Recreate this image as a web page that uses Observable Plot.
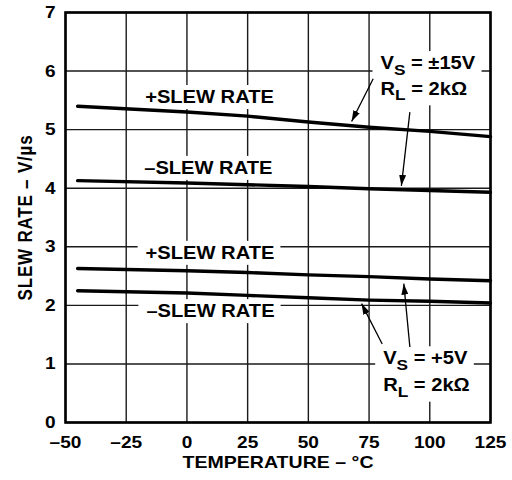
<!DOCTYPE html>
<html><head><meta charset="utf-8">
<script src="https://cdn.jsdelivr.net/npm/d3@7"></script>
<script src="https://cdn.jsdelivr.net/npm/@observablehq/plot@0.6"></script>
<style>body{margin:0;background:#fff}</style>
</head><body><div id="chart"></div>
<script>
// Temperature (°C) sample points
const temps = [-45, 0, 25, 50, 75, 100, 125];
// Slew rate (V/µs)
const posSlew15 = [5.40, 5.30, 5.23, 5.13, 5.04, 4.97, 4.88];
const negSlew15 = [4.13, 4.09, 4.06, 4.03, 3.99, 3.96, 3.93];
const posSlew5  = [2.63, 2.59, 2.56, 2.52, 2.49, 2.45, 2.42];
const negSlew5  = [2.25, 2.21, 2.17, 2.13, 2.09, 2.07, 2.04];
const seriesNames = ["+SR ±15V", "-SR ±15V", "+SR +5V", "-SR +5V"];
const seriesValues = [posSlew15, negSlew15, posSlew5, negSlew5];

const xTicks = [-50, -25, 0, 25, 50, 75, 100, 125];
const yTicks = [0, 1, 2, 3, 4, 5, 6, 7];
const xLabel = "TEMPERATURE – °C";
const yLabel = "SLEW RATE – V/µs";

// Curve labels (data coordinates)
const curveLabels = ["+SLEW RATE", "–SLEW RATE", "+SLEW RATE", "–SLEW RATE"];
const curveLabelX = [9.3, 8.8, 9.5, 9.7];
const curveLabelY = [5.55, 4.34, 2.89, 1.895];

// Condition labels ("_" marks a subscript letter)
const condLabels = ["V_S = ±15V", "R_L = 2kΩ", "V_S = +5V", "R_L = 2kΩ"];
const condLabelX = [79.7, 79.7, 80.8, 80.8];
const condLabelY = [6.13, 5.69, 1.09, 0.63];

// Annotation arrows (data coordinates)
const arrowX1 = [76.7, 91.8, 80.4, 91.8];
const arrowY1 = [5.87, 5.30, 1.34, 1.29];
const arrowX2 = [67.8, 88.3, 71.9, 89.3];
const arrowY2 = [5.14, 4.04, 2.03, 2.37];

const lineData = seriesNames.flatMap((s, j) => temps.map((t, i) => ({series: s, t, v: seriesValues[j][i]})));
const curveLabelData = curveLabels.map((text, i) => ({text, x: curveLabelX[i], y: curveLabelY[i]}));
const condLabelData = condLabels.map((text, i) => ({text, x: condLabelX[i], y: condLabelY[i]}));
const arrowData = arrowX1.map((x1, i) => ({x1, y1: arrowY1[i], x2: arrowX2[i], y2: arrowY2[i]}));

const fmt = d => String(d).replace("-", "–");
const FONT = "'Liberation Sans', Arial, Helvetica, sans-serif";

const svg = Plot.plot({
  width: 512,
  height: 480,
  marginLeft: 65,
  marginRight: 22,
  marginTop: 12,
  marginBottom: 58,
  style: {fontFamily: FONT, fontSize: "17px", fontWeight: "bold", color: "black", background: "white"},
  x: {domain: [-50, 125]},
  y: {domain: [0, 7]},
  marks: [
    Plot.gridX(xTicks, {stroke: "#1a1a1a", strokeOpacity: 1, strokeWidth: 1.4}),
    Plot.gridY(yTicks, {stroke: "#1a1a1a", strokeOpacity: 1, strokeWidth: 1.4}),
    Plot.axisX(xTicks, {tickFormat: fmt, tickSize: 0, tickPadding: 13, fontSize: 17, fontWeight: "bold", label: null, className: "tk"}),
    Plot.axisY(yTicks, {tickFormat: d => String(d), tickSize: 0, tickPadding: 10, fontSize: 17, fontWeight: "bold", label: null, className: "tk"}),
    Plot.text(curveLabelData, {x: "x", y: "y", text: "text", fontSize: 17.5, fontWeight: "bold", fill: "black", className: "lbl"}),
    Plot.text(condLabelData, {x: "x", y: "y", text: "text", fontSize: 17.5, fontWeight: "bold", fill: "black", textAnchor: "start", className: "lbl"}),
    Plot.line(lineData, {x: "t", y: "v", z: "series", stroke: "black", strokeWidth: 3.4}),
    Plot.link(arrowData, {x1: "x1", y1: "y1", x2: "x2", y2: "y2", stroke: "black", strokeWidth: 1.3, className: "arr"}),
    Plot.text([yLabel], {frameAnchor: "left", dx: -40, rotate: -90, textAnchor: "middle", text: d => d, fontSize: 17, fontWeight: "bold", fill: "black", className: "axly"}),
    Plot.text([xLabel], {frameAnchor: "bottom", dy: 45, text: d => d, fontSize: 17, fontWeight: "bold", fill: "black", className: "axl"}),
    Plot.frame({stroke: "black", strokeWidth: 2.6})
  ]
});
document.getElementById("chart").append(svg);

const root = d3.select(svg);

// subscripts
root.selectAll("g.lbl text").each(function () {
  const m = this.textContent.match(/^(.)_(.)(.*)$/);
  if (!m) return;
  const sel = d3.select(this);
  sel.text(null);
  sel.append("tspan").text(m[1]);
  sel.append("tspan").attr("dy", "5.5").attr("font-size", "15").text(m[2]);
  sel.append("tspan").attr("dy", "-5.5").text(m[3]);
});

// horizontally widen text to match the reference lettering
root.selectAll("g.lbl text, g.axl text, g.tk text").each(function () {
  const k = this.closest("g.tk") ? 1.12 : 1.15;
  const len = this.getComputedTextLength();
  if (len > 0) {
    this.setAttribute("textLength", (len * k).toFixed(1));
    this.setAttribute("lengthAdjust", "spacingAndGlyphs");
  }
});
// rotated y label: letter spacing along its length, thicker glyphs across
root.selectAll("g.axly text").each(function () {
  this.setAttribute("letter-spacing", "0.8px");
  const tr = this.getAttribute("transform");
  if (tr && tr.includes("rotate")) this.setAttribute("transform", tr + " scale(1,1.2)");
});

// white boxes behind annotation labels (break the grid like the reference)
root.selectAll("g.lbl text").each(function () {
  const b = this.getBBox();
  const r = document.createElementNS("http://www.w3.org/2000/svg", "rect");
  r.setAttribute("x", b.x - 8);
  r.setAttribute("y", b.y - 2);
  r.setAttribute("width", b.width + 14);
  r.setAttribute("height", b.height + 4);
  r.setAttribute("fill", "white");
  const tr = this.getAttribute("transform");
  if (tr) r.setAttribute("transform", tr);
  this.parentNode.insertBefore(r, this);
});

// filled arrowheads
const defs = root.append("defs");
defs.append("marker")
  .attr("id", "ah")
  .attr("viewBox", "0 0 11 7")
  .attr("refX", 11).attr("refY", 3.5)
  .attr("markerWidth", 11).attr("markerHeight", 7)
  .attr("markerUnits", "userSpaceOnUse")
  .attr("orient", "auto")
  .append("path").attr("d", "M0,0L11,3.5L0,7Z").attr("fill", "black");
root.selectAll("g.arr path").attr("marker-end", "url(#ah)");
</script>
</body></html>
